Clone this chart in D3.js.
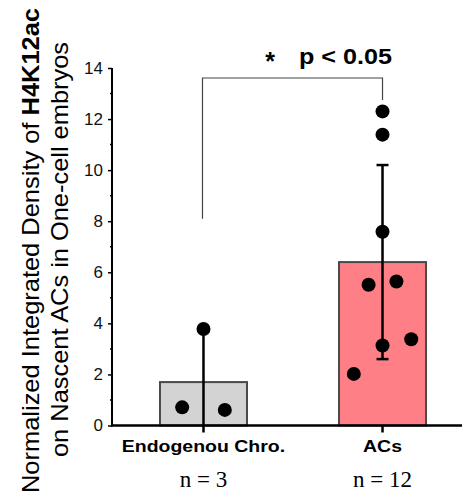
<!DOCTYPE html>
<html>
<head>
<meta charset="utf-8">
<script src="https://cdn.jsdelivr.net/npm/d3@7"></script>
<style>
  body { margin: 0; background: #fff; }
  text { font-family: Arial, "Liberation Sans", sans-serif; }
</style>
</head>
<body>
<div id="chart"></div>
<script>
// data
const groups = ["Endogenou Chro.", "ACs"];
const means = [1.7, 6.4];
const sds = [2.05, 3.8];
const nLabels = ["n = 3", "n = 12"];
const fills = ["#d3d3d3", "#ff7f86"];
const endoPoints = [0.71, 0.61, 3.78];
const acPoints = [2.02, 5.51, 5.64, 3.13, 3.38, 7.59, 11.39, 12.3];
// horizontal spread of the dots, as part of the bar width
const endoJitter = [-0.245, 0.245, 0];
const acJitter = [-0.33, -0.16, 0.16, 0, 0.33, 0, 0, 0];
const yTicks = [0, 2, 4, 6, 8, 10, 12, 14];

const width = 469, height = 494;

const svg = d3.select("#chart").append("svg")
  .attr("width", width)
  .attr("height", height);

const x = d3.scaleBand()
  .domain(groups)
  .range([112, 474])
  .paddingInner(0.514)
  .paddingOuter(0.268);

const y = d3.scaleLinear()
  .domain([0, 14])
  .range([425.5, 68]);

const cx = g => x(g) + x.bandwidth() / 2;

// bars
svg.selectAll("rect.bar")
  .data(groups)
  .enter()
    .append("rect")
    .attr("class", "bar")
    .attr("x", d => x(d))
    .attr("width", x.bandwidth())
    .attr("y", (d, i) => y(means[i]))
    .attr("height", (d, i) => y(0) - y(means[i]))
    .attr("fill", (d, i) => fills[i])
    .attr("stroke", "#4a4a4a")
    .attr("stroke-width", 2);

// error bars (lower end cut at the axis)
groups.forEach((g, i) => {
  const hi = means[i] + sds[i];
  const lo = Math.max(0, means[i] - sds[i]);
  svg.append("line")
    .attr("x1", cx(g)).attr("x2", cx(g))
    .attr("y1", y(hi)).attr("y2", y(lo))
    .attr("stroke", "#000").attr("stroke-width", 2.5);
  [hi, means[i] - sds[i]].forEach(v => {
    if (v <= 0) return;
    svg.append("line")
      .attr("x1", cx(g) - 6).attr("x2", cx(g) + 6)
      .attr("y1", y(v)).attr("y2", y(v))
      .attr("stroke", "#000").attr("stroke-width", 2.5);
  });
});

// dots
const dots = [];
endoPoints.forEach((v, i) => dots.push({ g: groups[0], v: v, j: endoJitter[i] }));
acPoints.forEach((v, i) => dots.push({ g: groups[1], v: v, j: acJitter[i] }));

svg.selectAll("circle")
  .data(dots)
  .enter()
    .append("circle")
    .attr("cx", d => cx(d.g) + d.j * x.bandwidth())
    .attr("cy", d => y(d.v))
    .attr("r", 7)
    .attr("fill", "#000");

// axes
const yAxis = svg.append("g")
  .attr("transform", "translate(112,0)")
  .call(d3.axisLeft(y).tickValues(yTicks).tickSize(4).tickPadding(5));
yAxis.select(".domain").attr("stroke-width", 2).attr("d", `M0,${y(14)}V${y(0) + 1}`);
yAxis.selectAll(".tick line").attr("stroke-width", 1.5);
yAxis.selectAll(".tick text")
  .attr("font-size", 17)
  .attr("fill", "#111")
  .attr("font-family", "Arial, 'Liberation Sans', sans-serif");

// minor ticks
svg.selectAll("line.minor")
  .data(d3.range(1, 14, 2))
  .enter()
    .append("line")
    .attr("class", "minor")
    .attr("x1", 110).attr("x2", 112)
    .attr("y1", d => y(d)).attr("y2", d => y(d))
    .attr("stroke", "#000").attr("stroke-width", 1.5);

// x axis
svg.append("line")
  .attr("x1", 111).attr("x2", 462)
  .attr("y1", y(0)).attr("y2", y(0))
  .attr("stroke", "#000").attr("stroke-width", 2.5);
groups.forEach(g => {
  svg.append("line")
    .attr("x1", cx(g)).attr("x2", cx(g))
    .attr("y1", y(0)).attr("y2", y(0) + 7)
    .attr("stroke", "#000").attr("stroke-width", 2.5);
});

svg.selectAll("text.xlab")
  .data(groups)
  .enter()
    .append("text")
    .attr("class", "xlab")
    .attr("x", d => cx(d))
    .attr("y", 452)
    .attr("text-anchor", "middle")
    .attr("font-size", 16.5)
    .attr("font-weight", "bold")
    .text(d => d)
    .each(function () {
      this.setAttribute("textLength", this.getComputedTextLength() * 1.18);
      this.setAttribute("lengthAdjust", "spacingAndGlyphs");
    });

svg.selectAll("text.nlab")
  .data(nLabels)
  .enter()
    .append("text")
    .attr("class", "nlab")
    .attr("x", (d, i) => cx(groups[i]))
    .attr("y", 487)
    .attr("text-anchor", "middle")
    .attr("font-size", 23)
    .style("font-family", "'Liberation Serif', 'Times New Roman', serif")
    .text(d => d);

// y title, two lines
const t1 = svg.append("text")
  .attr("transform", `translate(39,250.5) rotate(-90)`)
  .attr("text-anchor", "middle")
  .attr("font-size", 24)
  .attr("textLength", 485)
  .attr("lengthAdjust", "spacingAndGlyphs");
t1.append("tspan").text("Normalized Integrated Density of ");
t1.append("tspan").attr("font-weight", "bold").text("H4K12ac");

svg.append("text")
  .attr("transform", `translate(68,249.5) rotate(-90)`)
  .attr("text-anchor", "middle")
  .attr("font-size", 24)
  .attr("textLength", 415)
  .attr("lengthAdjust", "spacingAndGlyphs")
  .text("on Nascent ACs in One-cell embryos");

// significance bracket
svg.append("path")
  .attr("d", `M${cx(groups[0]) - 1},${y(8.1)}V78H${cx(groups[1])}V100`)
  .attr("fill", "none")
  .attr("stroke", "#444")
  .attr("stroke-width", 1.2);

svg.append("text")
  .attr("x", 270).attr("y", 70)
  .attr("text-anchor", "middle")
  .attr("font-size", 25)
  .attr("font-weight", "bold")
  .text("*");

svg.append("text")
  .attr("x", 299).attr("y", 64)
  .attr("font-size", 22)
  .attr("font-weight", "bold")
  .attr("textLength", 93)
  .attr("lengthAdjust", "spacingAndGlyphs")
  .text("p < 0.05");
</script>
</body>
</html>
